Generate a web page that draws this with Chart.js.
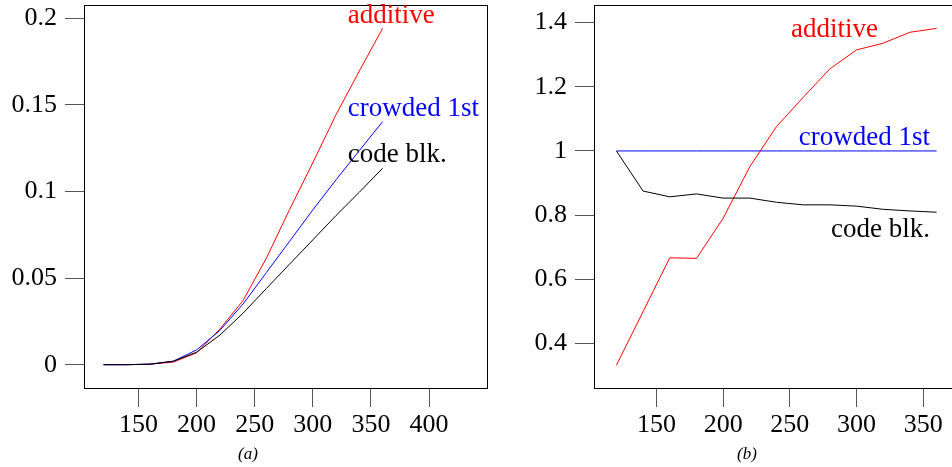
<!DOCTYPE html>
<html>
<head>
<meta charset="utf-8">
<script src="https://cdn.jsdelivr.net/npm/chart.js@4/dist/chart.umd.min.js"></script>
<style>
    html, body { margin: 0; padding: 0; background: #fff; overflow: hidden; width: 952px; height: 467px; }
    #wrap_a { position: absolute; left: 0; top: 0; width: 490px; height: 467px; }
    #wrap_b { position: absolute; left: 490px; top: 0; width: 480px; height: 467px; }
    .caption { position: absolute; top: 444px; width: 40px; text-align: center; font: italic 17px "Liberation Serif", serif; color: #000; }
</style>
</head>
<body>
<div id="wrap_a"><canvas id="chart_a" width="490" height="467"></canvas></div>
<div id="wrap_b"><canvas id="chart_b" width="480" height="467"></canvas></div>
<div class="caption" style="left:228px">(a)</div>
<div class="caption" style="left:727px">(b)</div>
<script>
// x values shared by both panels
const sizes = [120, 140, 160, 180, 200, 220, 240, 260, 280, 300, 320, 340, 360];

// panel (a)
const additiveA = [0, 0, 0.0003, 0.0015, 0.0068, 0.0205, 0.037, 0.0614, 0.0895, 0.1165, 0.1443, 0.1694, 0.194];
const crowdedA  = [0, 0, 0.0003, 0.002, 0.0085, 0.0197, 0.035, 0.0531, 0.0712, 0.0893, 0.1067, 0.1235, 0.1402];
const codeBlkA  = [0, 0, 0.0003, 0.002, 0.0072, 0.017, 0.0297, 0.0439, 0.058, 0.072, 0.0861, 0.0995, 0.1133];

// panel (b)
const additiveB = [0.332, 0.499, 0.667, 0.665, 0.79, 0.951, 1.076, 1.167, 1.256, 1.315, 1.336, 1.37, 1.382];
const crowdedB  = [1, 1, 1, 1, 1, 1, 1, 1, 1, 1, 1, 1, 1];
const codeBlkB  = [1, 0.875, 0.857, 0.866, 0.853, 0.853, 0.84, 0.832, 0.832, 0.828, 0.818, 0.813, 0.809];

const xTicksA = [150, 200, 250, 300, 350, 400];
const yTicksA = [0, 0.05, 0.1, 0.15, 0.2];
const xTicksB = [150, 200, 250, 300, 350];
const yTicksB = [0.4, 0.6, 0.8, 1, 1.2, 1.4];

const FONT = '"Liberation Serif", serif';

function pairs(ys) {
    return sizes.map((x, i) => ({x: x, y: ys[i]}));
}

function line(ys, color) {
    return {
        data: pairs(ys),
        borderColor: color,
        borderWidth: 1,
        pointRadius: 0,
        tension: 0,
        fill: false
    };
}

// box round the plot area and the series names
const frameAndLabels = {
    id: 'frameAndLabels',
    afterDatasetsDraw(chart, args, opts) {
        const ctx = chart.ctx;
        const a = chart.chartArea;
        ctx.save();
        ctx.strokeStyle = '#000';
        ctx.lineWidth = 1;
        ctx.strokeRect(Math.round(a.left) + 0.5, Math.round(a.top) + 0.5,
            Math.round(a.right - a.left), Math.round(a.bottom - a.top));
        ctx.font = '27px ' + FONT;
        ctx.textBaseline = 'alphabetic';
        for (const l of opts.labels) {
            ctx.fillStyle = l.color;
            ctx.textAlign = l.align;
            ctx.fillText(l.text, chart.scales.x.getPixelForValue(l.x), chart.scales.y.getPixelForValue(l.y));
        }
        ctx.restore();
    }
};

function makeChart(id, cfg) {
    const setTicks = vals => scale => { scale.ticks = vals.map(v => ({value: v})); };
    const fixW = w => scale => {
        scale.width = w;
        scale.paddingTop = 0; scale.paddingBottom = 0; scale.paddingLeft = 0; scale.paddingRight = 0;
    };
    const fixH = h => scale => {
        scale.height = h;
        scale.paddingTop = 0; scale.paddingBottom = 0; scale.paddingLeft = 0; scale.paddingRight = 0;
    };

    return new Chart(document.getElementById(id), {
        type: 'line',
        data: {datasets: cfg.datasets},
        options: {
            responsive: false,
            animation: false,
            events: [],
            layout: {padding: {top: 5, right: cfg.padRight, left: 0, bottom: 0}},
            plugins: {
                legend: {display: false},
                tooltip: {enabled: false},
                frameAndLabels: {labels: cfg.labels}
            },
            scales: {
                x: {
                    type: 'linear',
                    min: cfg.xMin, max: cfg.xMax,
                    afterBuildTicks: setTicks(cfg.xTicks),
                    afterFit: fixH(79),
                    border: {display: false},
                    grid: {drawOnChartArea: false, tickLength: 19, tickColor: '#555', tickWidth: 1},
                    ticks: {autoSkip: false, maxRotation: 0, padding: 3, color: '#000',
                        font: {family: FONT, size: 26}, callback: v => String(v)}
                },
                y: {
                    min: cfg.yMin, max: cfg.yMax,
                    afterBuildTicks: setTicks(cfg.yTicks),
                    afterFit: fixW(cfg.yWidth),
                    border: {display: false},
                    grid: {drawOnChartArea: false, tickLength: 19, tickColor: '#555', tickWidth: 1},
                    ticks: {autoSkip: false, padding: 8, color: '#000',
                        font: {family: FONT, size: 26}, callback: v => String(v)}
                }
            }
        },
        plugins: [frameAndLabels]
    });
}

makeChart('chart_a', {
    datasets: [line(codeBlkA, '#000'), line(crowdedA, '#0000ff'), line(additiveA, '#ff0000')],
    xMin: 103.2, xMax: 449.8, yMin: -0.01345, yMax: 0.2075,
    xTicks: xTicksA, yTicks: yTicksA, yWidth: 84, padRight: 3,
    labels: [
        {text: 'additive', color: '#ff0000', x: 330, y: 0.197, align: 'left'},
        {text: 'crowded 1st', color: '#0000ff', x: 330, y: 0.1435, align: 'left'},
        {text: 'code blk.', color: '#000', x: 330, y: 0.117, align: 'left'}
    ]
});

makeChart('chart_b', {
    datasets: [line(codeBlkB, '#000'), line(crowdedB, '#0000ff'), line(additiveB, '#ff0000')],
    xMin: 103.2, xMax: 376.8, yMin: 0.261, yMax: 1.455,
    xTicks: xTicksB, yTicks: yTicksB, yWidth: 104, padRight: 11,
    labels: [
        {text: 'additive', color: '#ff0000', x: 316, y: 1.355, align: 'right'},
        {text: 'crowded 1st', color: '#0000ff', x: 355, y: 1.019, align: 'right'},
        {text: 'code blk.', color: '#000', x: 355, y: 0.733, align: 'right'}
    ]
});
</script>
</body>
</html>
